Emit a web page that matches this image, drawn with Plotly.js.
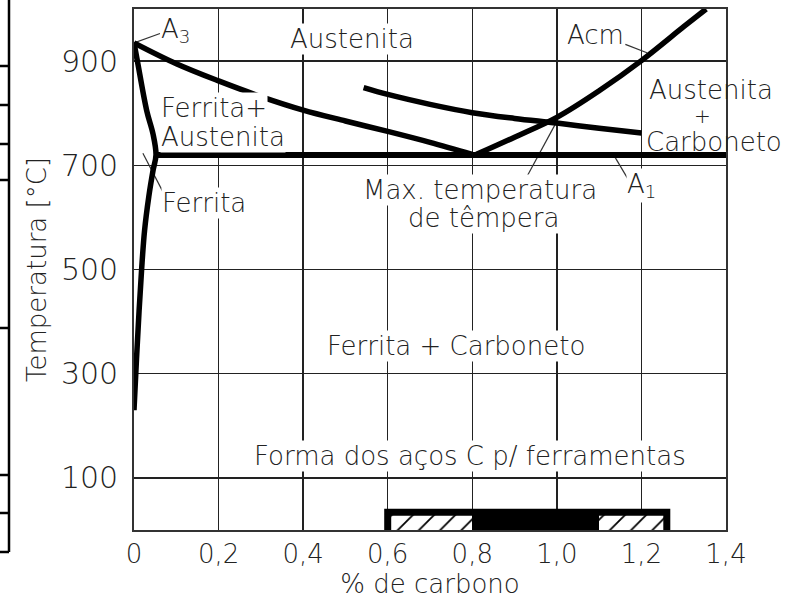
<!DOCTYPE html>
<html><head><meta charset="utf-8">
<script src="https://cdn.plot.ly/plotly-3.0.1.min.js"></script>
<style>html,body{margin:0;padding:0;background:#fff}</style>
</head><body><div id="chart" style="width:792px;height:599px"></div>
<script>
// ---- axis ticks ----
const xTickVals = [0, 0.2, 0.4, 0.6, 0.8, 1.0, 1.2, 1.4];
const xTickText = ["0", "0,2", "0,4", "0,6", "0,8", "1,0", "1,2", "1,4"];
const yTickVals = [100, 300, 500, 700, 900];
const yTickText = ["100", "300", "500", "700", "900"];

// ---- phase boundary curves (% C, °C) ----
const a3Carbon = [0, 0.1, 0.2, 0.3, 0.4, 0.5, 0.6, 0.7, 0.8];
const a3Temp   = [935, 895, 862, 832, 806, 785, 765, 744, 721];
const ferriteCarbon = [0, 0.008, 0.03, 0.045, 0.052, 0.045, 0.035, 0.025, 0.018, 0.012, 0.006, 0];
const ferriteTemp   = [935, 900, 805, 760, 720, 690, 640, 575, 500, 420, 330, 230];
const a1Carbon = [0.052, 1.4];
const a1Temp   = [720, 720];
const acmCarbon = [0.81, 0.9, 1.0, 1.1, 1.2, 1.3, 1.353];
const acmTemp   = [721, 754, 792, 843, 901, 966, 1000];
const quenchCarbon = [0.543, 0.6, 0.7, 0.8, 0.9, 1.0, 1.1, 1.2];
const quenchTemp   = [849, 836, 817, 801, 790, 781, 771, 762];

// ---- leader lines: [x0, x1], [T0, T1] ----
const leaderA3X = [0, 0.0615],      leaderA3T = [935, 953];
const leaderAcmX = [1.162, 1.213],  leaderAcmT = [932, 916];
const leaderA1X = [1.135, 1.170],   leaderA1T = [719, 671];
const leaderMaxX = [0.997, 0.929],  leaderMaxT = [780, 678];
const leaderFerX = [0.021, 0.069],  leaderFerT = [723, 648];

// ---- tool steel range bar ----
const toolStart  = [0.6, 0.8, 1.1];
const toolEnd    = [0.8, 1.1, 1.26];
const toolHatch  = ["/", "", "/"];
const toolHeight = 34;

// ---- region labels ----
const labelText = ["A<sub>3</sub>", "Austenita", "Acm", "Ferrita+", "Austenita", "Austenita", "+", "Carboneto",
                   "Max. temperatura", "de têmpera", "A<sub>1</sub>", "Ferrita", "Ferrita + Carboneto",
                   "Forma dos aços C p/ ferramentas"];
const labelX = [0.0615, 0.516, 1.091, 0.0615, 0.0615, 1.365, 1.345, 1.371, 0.819, 0.827, 1.2, 0.064, 0.762, 0.795];
const labelT = [959, 943, 950, 810, 754, 845, 795, 745, 652, 599, 662, 627, 353, 142];
const labelSize = [26, 26, 26, 26, 26, 26, 20, 26, 26, 26, 26, 26, 26, 26];
const labelAnchor = ["left", "center", "center", "left", "left", "center", "center", "center",
                     "center", "center", "center", "left", "center", "center"];
const clear = "rgba(0,0,0,0)";
const labelBg = ["#fff", "#fff", "#fff", "#fff", "#fff", clear, clear, clear,
                 "#fff", "#fff", "#fff", "#fff", "#fff", "#fff"];

const thick = {color: "#000", width: 5.5, shape: "spline"};
const thin = {color: "#333", width: 1.2};

function curve(x, y, line) {
  return {type: "scatter", mode: "lines", x: x, y: y, line: line, hoverinfo: "skip"};
}

const mids = toolStart.map((s, i) => (s + toolEnd[i]) / 2);
const widths = toolStart.map((s, i) => toolEnd[i] - s);
const first = toolStart[0], last = toolEnd[toolEnd.length - 1];

const traces = [
  {type: "bar", x: mids, y: toolStart.map(() => toolHeight), width: widths, base: 0,
   marker: {color: "#000", line: {width: 0},
            pattern: {shape: toolHatch, bgcolor: "#fff", fgcolor: "#000", size: 15, solidity: 0.12}},
   hoverinfo: "skip"},
  curve([first, first, last, last], [0, toolHeight, toolHeight, 0], {color: "#000", width: 7}),
  curve(leaderA3X, leaderA3T, thin),
  curve(leaderAcmX, leaderAcmT, thin),
  curve(leaderA1X, leaderA1T, thin),
  curve(leaderMaxX, leaderMaxT, thin),
  curve(leaderFerX, leaderFerT, thin),
  curve(a3Carbon, a3Temp, thick),
  curve(ferriteCarbon, ferriteTemp, thick),
  curve(a1Carbon, a1Temp, {color: "#000", width: 6}),
  curve(acmCarbon, acmTemp, thick),
  curve(quenchCarbon, quenchTemp, thick)
];

const textColor = "#222";
const font = {family: "DejaVu Sans", size: 26, color: textColor, weight: 300};
const annotations = labelText.map((t, i) => ({
  x: labelX[i], y: labelT[i], xref: "x", yref: "y", text: t, showarrow: false,
  xanchor: labelAnchor[i], yanchor: "middle",
  font: {family: "DejaVu Sans", size: labelSize[i], color: textColor, weight: 300},
  bgcolor: labelBg[i], borderpad: 0
}));

// frame fragment of the neighbouring drawing at the left edge (paper coords)
const px = v => (v - 134) / 592;
const py = v => (530 - v) / 521;
const edgeTicks = [66, 105, 144, 180, 328, 475, 513, 552];
const shapes = [{type: "line", xref: "paper", yref: "paper", x0: px(9), x1: px(9), y0: py(0), y1: py(552),
                 line: {color: "#000", width: 2.5}}]
  .concat(edgeTicks.map(t => ({type: "line", xref: "paper", yref: "paper", x0: px(-2), x1: px(9),
                 y0: py(t), y1: py(t), line: {color: "#000", width: 2.5}})));

const layout = {
  width: 792, height: 599,
  margin: {l: 134, r: 66, t: 9, b: 69},
  paper_bgcolor: "#fff", plot_bgcolor: "#fff",
  showlegend: false, hovermode: false, bargap: 0,
  xaxis: {range: [0, 1.4], tickvals: xTickVals, ticktext: xTickText, ticks: "",
          ticklabelstandoff: 0,
          tickfont: {family: "DejaVu Sans", size: 26, color: textColor, weight: 300},
          showgrid: true, gridcolor: "#222", gridwidth: 1.3, zeroline: false,
          showline: true, mirror: true, linecolor: "#333", linewidth: 1.8,
          title: {text: "% de carbono", font: font, standoff: 16}},
  yaxis: {range: [0, 1000], tickvals: yTickVals, ticktext: yTickText, ticks: "",
          ticklabelstandoff: 8,
          tickfont: {family: "DejaVu Sans", size: 30, color: textColor, weight: 300},
          showgrid: true, gridcolor: "#222", gridwidth: 1.3, zeroline: false,
          showline: true, mirror: true, linecolor: "#333", linewidth: 1.8,
          title: {text: "Temperatura [°C]", font: font, standoff: 7}},
  annotations: annotations,
  shapes: shapes
};

Plotly.newPlot("chart", traces, layout, {displayModeBar: false, staticPlot: true});
</script></body></html>
